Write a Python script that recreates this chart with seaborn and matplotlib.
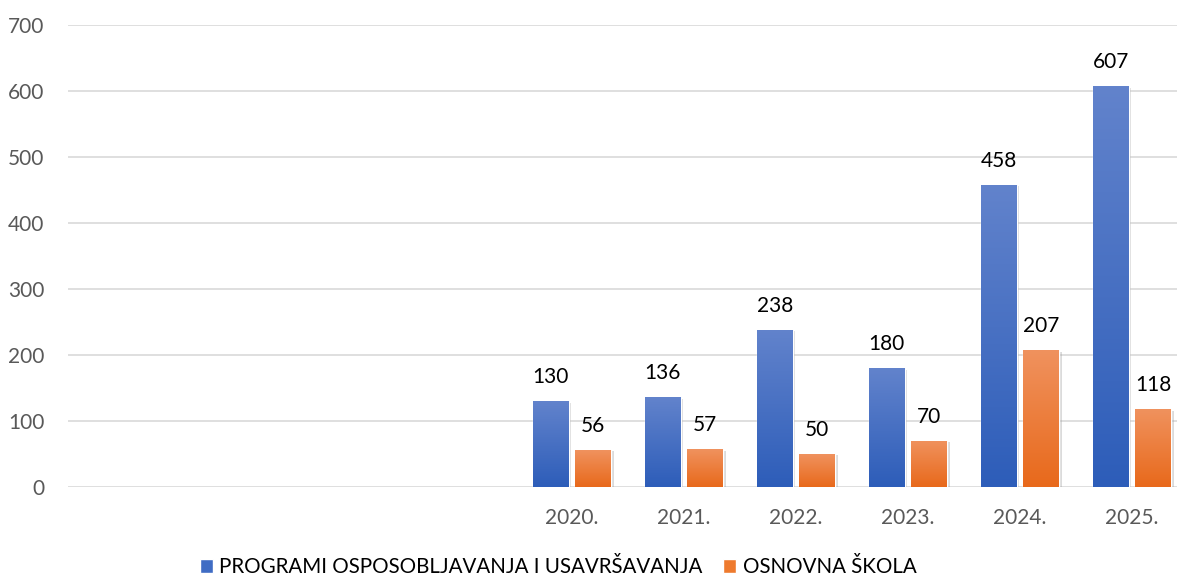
import numpy as np
import pandas as pd
import matplotlib
matplotlib.use("Agg")
import matplotlib.pyplot as plt
import matplotlib.patheffects as pe
from matplotlib.patches import Patch
import seaborn as sns

# ==========================
# Data
# ==========================

years = ["2020.", "2021.", "2022.", "2023.", "2024.", "2025."]
programi = [130, 136, 238, 180, 458, 607]
osnovna = [56, 57, 50, 70, 207, 118]
empty_slots = 4  # chart has four empty categories on the left

series_names = ["PROGRAMI OSPOSOBLJAVANJA I USAVRŠAVANJA", "OSNOVNA ŠKOLA"]
tick_labels = [""] * empty_slots + years

rows = []
for i, y in enumerate(years):
    rows.append({"slot": empty_slots + i, "series": series_names[0], "value": programi[i]})
    rows.append({"slot": empty_slots + i, "series": series_names[1], "value": osnovna[i]})
df = pd.DataFrame(rows)

blue_top, blue_bot = "#6283CC", "#2D5DB9"
orange_top, orange_bot = "#F0925E", "#E8691B"

sns.set_theme(style="white")
plt.rcParams["font.family"] = ["Lato", "DejaVu Sans"]

fig = plt.figure(figsize=(11.77, 5.8), dpi=100)
ax = fig.add_axes([68 / 1177, 93 / 580, 1120 / 1177, 462 / 580])

sns.barplot(
    data=df,
    x="slot",
    y="value",
    hue="series",
    order=list(range(len(tick_labels))),
    hue_order=series_names,
    palette=["#4472C4", "#ED7D31"],
    width=0.76,
    gap=0.16,
    legend=False,
    ax=ax,
)

ax.set_ylim(0, 700)
ax.set_xlim(-0.5, len(tick_labels) - 0.5)
ax.set_yticks(range(0, 701, 100))
ax.set_xticks(range(len(tick_labels)))
ax.set_xticklabels(tick_labels)
ax.set_xlabel("")
ax.set_ylabel("")
ax.tick_params(axis="both", length=0, labelsize=15, labelcolor="#595959")
ax.tick_params(axis="x", pad=15)
ax.tick_params(axis="y", pad=17)

ax.grid(axis="y", color="#D9D9D9", linewidth=1.2)
ax.set_axisbelow(True)
sns.despine(ax=ax, left=True, bottom=True, top=True, right=True)

# gradient fill + light shadow on bars
gradients = [(blue_top, blue_bot), (orange_top, orange_bot)]
for cont, (c_top, c_bot) in zip(ax.containers, gradients):
    cmap = matplotlib.colors.LinearSegmentedColormap.from_list("g", [c_bot, c_top])
    for bar in cont:
        h = bar.get_height()
        if not np.isfinite(h) or h == 0:
            continue
        bar.set_path_effects([
            pe.SimplePatchShadow(offset=(2, -1), shadow_rgbFace="#9A9A9A", alpha=0.35),
            pe.Normal(),
        ])
        x0 = bar.get_x()
        w = bar.get_width()
        grad = np.linspace(0, 1, 256).reshape(-1, 1)
        im = ax.imshow(
            grad,
            extent=[x0, x0 + w, 0, h],
            origin="lower",
            cmap=cmap,
            aspect="auto",
            zorder=bar.get_zorder() + 0.1,
        )
        im.set_clip_path(bar)
    ax.bar_label(cont, padding=10, fontsize=15, color="#000000")

ax.set_xlim(-0.5, len(tick_labels) - 0.5)
ax.set_ylim(0, 700)

handles = [Patch(facecolor="#3F6CC4"), Patch(facecolor="#EE7A2E")]
fig.legend(
    handles,
    series_names,
    loc="lower center",
    bbox_to_anchor=(0.474, -0.027),
    ncol=2,
    frameon=False,
    fontsize=14.8,
    handlelength=0.65,
    handleheight=0.65,
    handletextpad=0.3,
    columnspacing=1.0,
    labelcolor="#000000",
)

fig.savefig("out.png", dpi=100)
plt.close(fig)
